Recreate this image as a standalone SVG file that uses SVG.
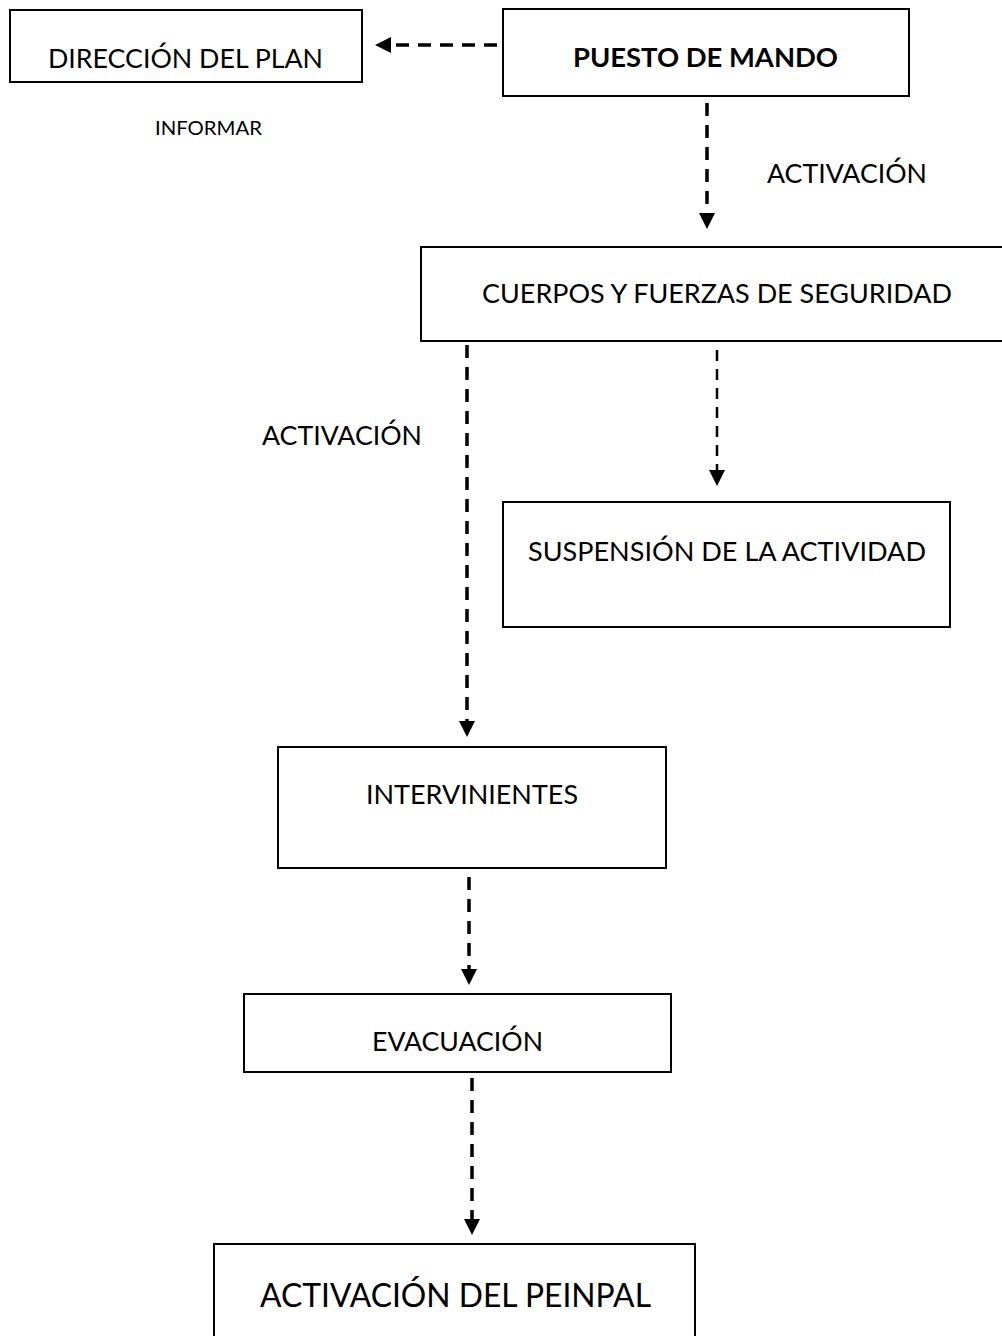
<svg xmlns="http://www.w3.org/2000/svg" width="1002" height="1336" viewBox="0 0 1002 1336">
<style>
  .box { fill: #ffffff; stroke: #000000; stroke-width: 2; }
  .t { font-family: Lato, "Open Sans", "Liberation Sans", sans-serif; fill: #000000; text-anchor: start; }
  .n { font-size: 27.5px; }
  .b { font-size: 27.5px; font-weight: bold; }
  .s { font-size: 19.5px; }
  .l { font-size: 32px; }
  .c { fill: none; stroke: #000000; stroke-width: 3.5; stroke-dasharray: 13 9; }
  .c2 { fill: none; stroke: #000000; stroke-width: 2.5; stroke-dasharray: 11 8; }
</style>
<defs>
  <marker id="ah" viewBox="0 0 16 16" refX="0" refY="8" markerWidth="16" markerHeight="16" markerUnits="userSpaceOnUse" orient="auto">
    <path d="M0,0 L16,8 L0,16 z" fill="#000000"/>
  </marker>
</defs>
<rect x="0" y="0" width="1002" height="1336" fill="#ffffff"/>

<g id="connectors">
  <line id="c-informar" class="c" x1="497" y1="45" x2="391" y2="45" marker-end="url(#ah)"/>
  <line id="c-activ1" class="c" x1="707" y1="103" x2="707" y2="213" marker-end="url(#ah)"/>
  <line id="c-activ2" class="c" x1="467" y1="345" x2="467" y2="721" marker-end="url(#ah)"/>
  <line id="c-susp" class="c2" x1="717" y1="350" x2="717" y2="470" marker-end="url(#ah)"/>
  <line id="c-evac" class="c" x1="469" y1="877" x2="469" y2="969" marker-end="url(#ah)"/>
  <line id="c-peinpal" class="c" x1="472" y1="1078" x2="472" y2="1219" marker-end="url(#ah)"/>
</g>

<g id="node-direccion">
  <rect class="box" x="10" y="10" width="352" height="72"/>
  <text class="t n" x="48" y="68" textLength="275" lengthAdjust="spacingAndGlyphs">DIRECCIÓN DEL PLAN</text>
</g>
<g id="label-informar">
  <text class="t s" x="155" y="135" textLength="107" lengthAdjust="spacingAndGlyphs">INFORMAR</text>
</g>
<g id="node-puesto">
  <rect class="box" x="503" y="9" width="406" height="87"/>
  <text class="t b" x="573" y="67" textLength="265" lengthAdjust="spacingAndGlyphs">PUESTO DE MANDO</text>
</g>
<g id="label-activacion1">
  <text class="t n" x="767" y="183" textLength="160" lengthAdjust="spacingAndGlyphs">ACTIVACIÓN</text>
</g>
<g id="node-cuerpos">
  <rect class="box" x="421" y="247" width="600" height="94"/>
  <text class="t n" x="482" y="303" textLength="470" lengthAdjust="spacingAndGlyphs">CUERPOS Y FUERZAS DE SEGURIDAD</text>
</g>
<g id="label-activacion2">
  <text class="t n" x="262" y="445" textLength="160" lengthAdjust="spacingAndGlyphs">ACTIVACIÓN</text>
</g>
<g id="node-suspension">
  <rect class="box" x="503" y="502" width="447" height="125"/>
  <text class="t n" x="528" y="561" textLength="398" lengthAdjust="spacingAndGlyphs">SUSPENSIÓN DE LA ACTIVIDAD</text>
</g>
<g id="node-intervinientes">
  <rect class="box" x="278" y="747" width="388" height="121"/>
  <text class="t n" x="366" y="804" textLength="212" lengthAdjust="spacingAndGlyphs">INTERVINIENTES</text>
</g>
<g id="node-evacuacion">
  <rect class="box" x="244" y="994" width="427" height="78"/>
  <text class="t n" x="372" y="1051" textLength="171" lengthAdjust="spacingAndGlyphs">EVACUACIÓN</text>
</g>
<g id="node-peinpal">
  <rect class="box" x="214" y="1244" width="481" height="110"/>
  <text class="t l" x="260" y="1307" textLength="391" lengthAdjust="spacingAndGlyphs">ACTIVACIÓN DEL PEINPAL</text>
</g>
</svg>
